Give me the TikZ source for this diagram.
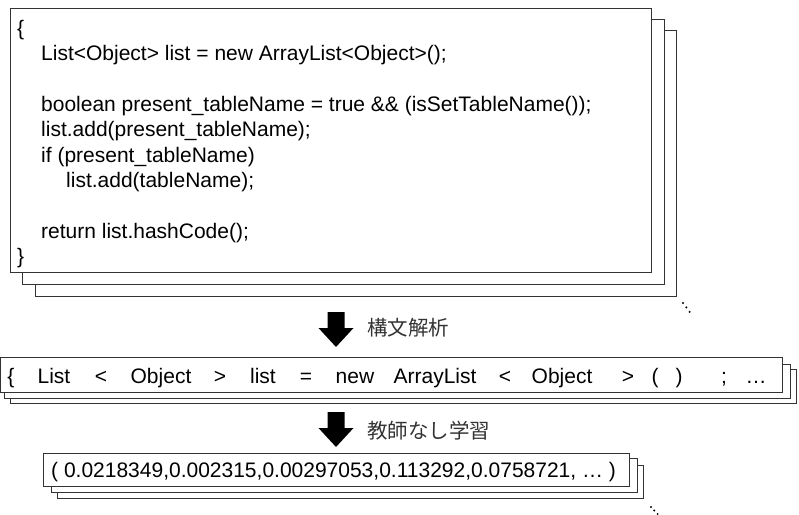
\documentclass[tikz,border=0pt]{standalone}
\usepackage{fontspec}
\setmainfont{Liberation Sans}
\newfontfamily\jpfont{Noto Sans CJK JP}
\tikzset{
	stackbox/.style={draw=black!80, fill=white, line width=0.9pt},
	codeline/.style={anchor=base west, inner sep=0pt, font=\fontsize{21}{25}\selectfont},
	token/.style={anchor=base, inner sep=0pt, font=\fontsize{21}{25}\selectfont},
	steplabel/.style={anchor=west, inner sep=0pt, text=black!80, font=\jpfont\fontsize{20.5}{24}\selectfont}
}
\begin{document}
\begin{tikzpicture}[x=1pt, y=-1pt]
	\useasboundingbox (0,0) rectangle (799,514);
	% Quelltext-Stapel
	\filldraw[stackbox] (35,30) rectangle (676,296);
	\filldraw[stackbox] (22,19) rectangle (664,284);
	\filldraw[stackbox] (10,8) rectangle (651,272);
	\node[codeline] (l1) at (17,35) {\{};
	\node[codeline] (l2) at (41,60.4) {List\textless Object\textgreater{} list = new ArrayList\textless Object\textgreater();};
	\node[codeline] (l3) at (41,111.2) {boolean present\_tableName = true \&\& (isSetTableName());};
	\node[codeline] (l4) at (41,136.6) {list.add(present\_tableName);};
	\node[codeline] (l5) at (41,162) {if (present\_tableName)};
	\node[codeline] (l6) at (66,187.4) {list.add(tableName);};
	\node[codeline] (l7) at (41,238.2) {return list.hashCode();};
	\node[codeline] (l8) at (17,263.6) {\}};
	\foreach \dx/\dy in {0/0, 3.3/4.4, 6.6/8.8}
		\fill (683+\dx, 303+\dy) circle (1.1pt);
	% Pfeile
	\foreach \y in {312,412}
		\fill[black] (327.5,\y) -- (344.5,\y) -- (344.5,\y+16) -- (353.5,\y+16)
		-- (336,\y+35) -- (318.5,\y+16) -- (327.5,\y+16) -- cycle;
	\node[steplabel] (parse) at (367,328) {構文解析};
	\node[steplabel] (learn) at (367,431) {教師なし学習};
	% Token-Stapel
	\filldraw[stackbox] (10,369) rectangle (796,403);
	\filldraw[stackbox] (4,364) rectangle (790,398);
	\filldraw[stackbox] (0.5,357) rectangle (782,392);
	\foreach \x/\t [count=\i] in {11/\{, 54/List, 101/\textless, 161/Object, 220/\textgreater,
		263/list, 306/=, 355/new, 435/ArrayList, 505/\textless, 562/Object, 628/\textgreater,
		655/{(}, 679/{)}, 724/{;}, 756/{…}}
		\node[token] (tok\i) at (\x,383) {\t};
	% Vektor-Stapel
	\filldraw[stackbox] (57,465) rectangle (643,498);
	\filldraw[stackbox] (51,458) rectangle (637,492);
	\filldraw[stackbox] (43,453) rectangle (629,486);
	\node[codeline] (vec) at (51,477) {( 0.0218349,0.002315,0.00297053,0.113292,0.0758721, … )};
	\foreach \dx/\dy in {0/0, 3.3/3.5, 6.6/7}
		\fill (651+\dx, 507+\dy) circle (1.1pt);
\end{tikzpicture}
\end{document}
